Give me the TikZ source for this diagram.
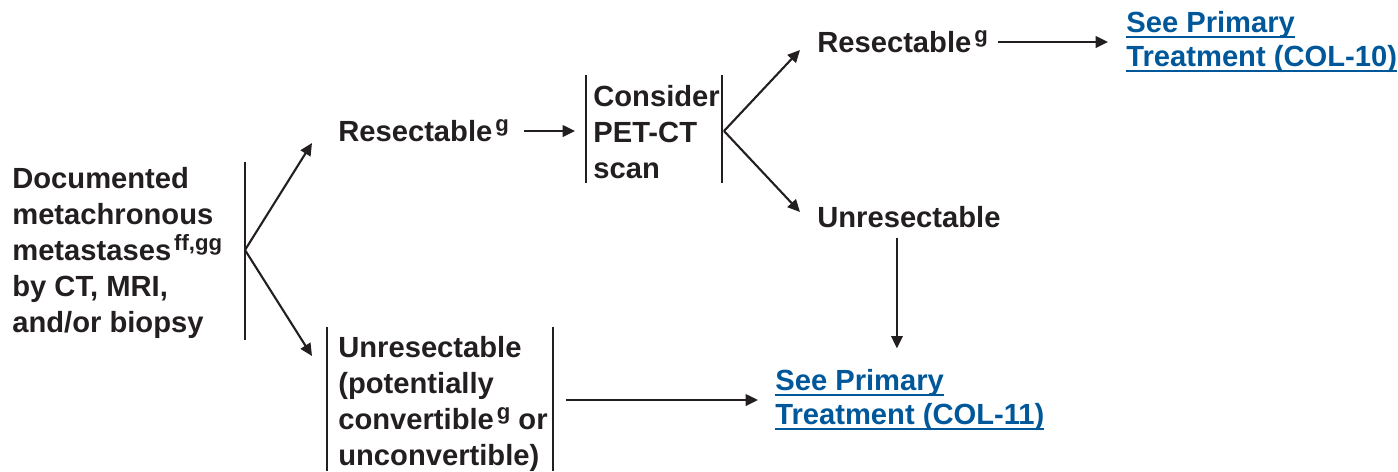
\documentclass[tikz,border=0pt]{standalone}
\usepackage{fontspec}
\setmainfont{Liberation Sans}
\usetikzlibrary{positioning}
\usetikzlibrary{arrows.meta}

\definecolor{ink}{RGB}{35,31,32}
\definecolor{linkblue}{RGB}{0,88,154}
\newcommand{\supnote}[1]{\hspace{0.1em}\raisebox{0.34em}{\fontsize{12.6}{12.6}\selectfont #1}}
\newsavebox{\linkbox}
\newcommand{\ulink}[1]{\sbox{\linkbox}{#1}\rlap{\rule[-3pt]{\wd\linkbox}{1pt}}\usebox{\linkbox}}

\tikzset{
 txt/.style={anchor=west,inner sep=0pt,align=left,text=ink,font=\fontsize{16.6}{20.5}\selectfont\bfseries},
 link/.style={txt,text=linkblue,font=\fontsize{16.6}{19}\selectfont\bfseries},
 bar/.style={draw=ink,line width=1.1pt},
 arr/.style={draw=ink,line width=1.2pt,-{Triangle[length=7pt,width=6.5pt]}}
}

\begin{document}
\begin{tikzpicture}[x=0.02cm,y=-0.02cm]
 \useasboundingbox (0,0) rectangle (1398,471);
 % first column
 \node[txt] (doc) at (12,253) {Documented\\metachronous\\metastases\supnote{ff,gg}\\by CT, MRI,\\and/or biopsy};
 \draw[bar] (245,162) -- (245,340);
 \coordinate (b1) at (245,250);
 % upper branch
 \node[txt] (res1) at (338,131) {Resectable\supnote{g}};
 \node[txt] (pet) at (593,132) {Consider\\PET-CT\\scan};
 \draw[bar] (586,75) -- (586,183);
 \draw[bar] (722,75) -- (722,183);
 \coordinate (b2) at (586,131);
 \coordinate (b3) at (722,131);
 \node[txt] (res2) at (817,42) {Resectable\supnote{g}};
 \node[link] (col10) at (1126,42) {\ulink{See Primary}\\\ulink{Treatment (COL-10)}};
 \node[txt] (unres) at (817,217) {Unresectable};
 % lower branch
 \node[txt] (unres2) at (338,404) {Unresectable\\(potentially\\convertible\supnote{g} or\\unconvertible)};
 \draw[bar] (327,327) -- (327,471);
 \draw[bar] (553,327) -- (553,471);
 \coordinate (b5) at (553,400);
 \node[link] (col11) at (775,400) {\ulink{See Primary}\\\ulink{Treatment (COL-11)}};
 % arrows
 \draw[arr] (b1) -- ([shift={(-26,12)}]res1.west);
 \draw[arr] (b1) -- ([shift={(-26,-48)}]unres2.west);
 \draw[arr,shorten <=0.3cm,shorten >=0.22cm] (res1.east) -- (b2);
 \draw[arr] ([xshift=0.04cm]b3) -- ([shift={(-17,8)}]res2.west);
 \draw[arr] ([xshift=0.04cm]b3) -- ([shift={(-17,-5)}]unres.west);
 \draw[arr,shorten <=0.2cm,shorten >=0.36cm] (res2.east) -- (res2.east -| col10.west);
 \draw[arr,shorten <=0.2cm,shorten >=0.42cm] ([xshift=-0.24cm]unres.south) -- ([xshift=-0.24cm]unres.south |- col11.north);
 \draw[arr,shorten <=0.26cm,shorten >=0.34cm] (b5) -- (b5 -| col11.west);
\end{tikzpicture}
\end{document}
